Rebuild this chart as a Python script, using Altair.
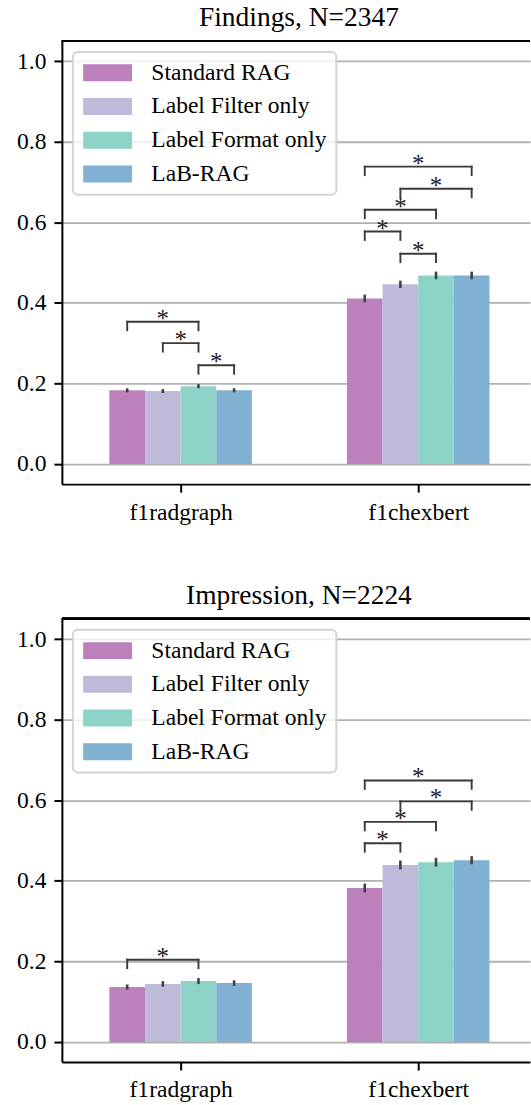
import altair as alt
import pandas as pd

# ---------------- data ----------------
METHODS = ["Standard RAG", "Label Filter only", "Label Format only", "LaB-RAG"]
COLORS = ["#bc80bd", "#bebada", "#8dd3c7", "#80b1d3"]
METRICS = ["f1radgraph", "f1chexbert"]
TITLES = ["Findings, N=2347", "Impression, N=2224"]

# Findings panel
FIND_RADGRAPH = [0.183, 0.181, 0.193, 0.183]
FIND_RADGRAPH_ERR = [0.005, 0.005, 0.005, 0.005]
FIND_CHEXBERT = [0.411, 0.446, 0.468, 0.468]
FIND_CHEXBERT_ERR = [0.0095, 0.009, 0.0095, 0.0095]

# Impression panel
IMP_RADGRAPH = [0.136, 0.144, 0.151, 0.146]
IMP_RADGRAPH_ERR = [0.0065, 0.007, 0.0075, 0.007]
IMP_CHEXBERT = [0.382, 0.439, 0.446, 0.451]
IMP_CHEXBERT_ERR = [0.011, 0.011, 0.011, 0.010]

# significance brackets: metric, method a, method b, bracket height
FIND_SIG_METRIC = ["f1radgraph", "f1radgraph", "f1radgraph",
                   "f1chexbert", "f1chexbert", "f1chexbert", "f1chexbert", "f1chexbert"]
FIND_SIG_A = ["Standard RAG", "Label Filter only", "Label Format only",
              "Standard RAG", "Label Filter only", "Standard RAG", "Standard RAG", "Label Filter only"]
FIND_SIG_B = ["Label Format only", "Label Format only", "LaB-RAG",
              "LaB-RAG", "LaB-RAG", "Label Format only", "Label Filter only", "Label Format only"]
FIND_SIG_H = [0.353, 0.300, 0.245, 0.738, 0.683, 0.631, 0.577, 0.522]

IMP_SIG_METRIC = ["f1radgraph", "f1chexbert", "f1chexbert", "f1chexbert", "f1chexbert"]
IMP_SIG_A = ["Standard RAG", "Standard RAG", "Label Filter only", "Standard RAG", "Standard RAG"]
IMP_SIG_B = ["Label Format only", "LaB-RAG", "LaB-RAG", "Label Format only", "Label Filter only"]
IMP_SIG_H = [0.204, 0.649, 0.597, 0.546, 0.493]

Y_TICKS = [0.0, 0.2, 0.4, 0.6, 0.8, 1.0]

# ---------------- style / layout ----------------
FONT = "'Liberation Serif', 'Times New Roman', Times, 'DejaVu Serif', serif"
BAR_W = 0.15          # width of one bar in category units
LEG = 0.021           # bracket leg length (data units)
PLOT_W = 469
PLOT_H = 444
X_DOMAIN = [-0.5, -0.5 + PLOT_W / 238.0]
Y_DOMAIN = [-0.05, 1.05]
LABEL_EXPR = "datum.value == 0 ? '%s' : '%s'" % (METRICS[0], METRICS[1])


def bar_frame(rad, rad_err, chex, chex_err):
    rows = []
    for m_i, (vals, errs) in enumerate([(rad, rad_err), (chex, chex_err)]):
        for k, meth in enumerate(METHODS):
            pos = m_i + (k - 1.5) * BAR_W
            rows.append(dict(method=meth, metric=METRICS[m_i], value=vals[k], base=0.0,
                             pos=pos, x1=pos - BAR_W / 2, x2=pos + BAR_W / 2,
                             lo=vals[k] - errs[k], hi=vals[k] + errs[k]))
    return pd.DataFrame(rows)


def pos_of(metric, method):
    return METRICS.index(metric) + (METHODS.index(method) - 1.5) * BAR_W


def sig_frames(metrics, a_list, b_list, heights):
    br, legs = [], []
    for met, a, b, h in zip(metrics, a_list, b_list, heights):
        xa, xb = pos_of(met, a), pos_of(met, b)
        br.append(dict(xa=xa, xb=xb, xm=(xa + xb) / 2, h=h))
        legs.append(dict(x=xa, h=h, hl=h - LEG))
        legs.append(dict(x=xb, h=h, hl=h - LEG))
    return pd.DataFrame(br), pd.DataFrame(legs)


xscale = alt.Scale(domain=X_DOMAIN, nice=False, zero=False)
yscale = alt.Scale(domain=Y_DOMAIN, nice=False, zero=False)
xaxis = alt.Axis(title=None, values=[0, 1], labelExpr=LABEL_EXPR, grid=False,
                 labelAngle=0, labelBaseline="top")
yaxis = alt.Axis(title=None, values=Y_TICKS, format=".1f", grid=True)


def panel(title, bars_df, br_df, legs_df):
    X = lambda f: alt.X(f, scale=xscale, axis=xaxis)
    Y = lambda f: alt.Y(f, scale=yscale, axis=yaxis)

    bars = alt.Chart(bars_df).mark_bar(strokeWidth=0).encode(
        x=X("x1:Q"), x2="x2:Q",
        y=Y("value:Q"), y2="base:Q",
        color=alt.Color("method:N", scale=alt.Scale(domain=METHODS, range=COLORS),
                        legend=alt.Legend(title=None, orient="top-left", offset=11,
                                          symbolType="M-2.88,-1H2.88V1H-2.88Z",
                                          symbolSize=289)),
    )
    errs = alt.Chart(bars_df).mark_rule(color="#424242", strokeWidth=2.6).encode(
        x=X("pos:Q"), y=Y("lo:Q"), y2="hi:Q"
    )
    hbr = alt.Chart(br_df).mark_rule(color="#3a3a3a", strokeWidth=1.9, strokeCap="square").encode(
        x=X("xa:Q"), x2="xb:Q", y=Y("h:Q")
    )
    vbr = alt.Chart(legs_df).mark_rule(color="#3a3a3a", strokeWidth=1.9, strokeCap="square").encode(
        x=X("x:Q"), y=Y("hl:Q"), y2="h:Q"
    )
    stars = alt.Chart(br_df).mark_text(text="*", font=FONT, fontSize=25, color="#222222",
                                       align="center", baseline="alphabetic", dy=5).encode(
        x=X("xm:Q"), y=Y("h:Q")
    )
    top_spine = alt.Chart(bars_df).mark_rule(color="black", strokeWidth=2).encode(
        x=alt.value(0), x2=alt.value(PLOT_W), y=alt.value(0)
    )
    return alt.layer(bars, errs, hbr, vbr, stars, top_spine).properties(
        width=PLOT_W, height=PLOT_H,
        title=alt.TitleParams(title, dx=3),
    )


b1 = bar_frame(FIND_RADGRAPH, FIND_RADGRAPH_ERR, FIND_CHEXBERT, FIND_CHEXBERT_ERR)
b2 = bar_frame(IMP_RADGRAPH, IMP_RADGRAPH_ERR, IMP_CHEXBERT, IMP_CHEXBERT_ERR)
br1, lg1 = sig_frames(FIND_SIG_METRIC, FIND_SIG_A, FIND_SIG_B, FIND_SIG_H)
br2, lg2 = sig_frames(IMP_SIG_METRIC, IMP_SIG_A, IMP_SIG_B, IMP_SIG_H)

chart = alt.vconcat(
    panel(TITLES[0], b1, br1, lg1),
    panel(TITLES[1], b2, br2, lg2),
    spacing=58,
).resolve_scale(color="independent").resolve_legend(color="independent").properties(
    padding={"left": 16, "top": 3, "right": 0, "bottom": 0},
).configure_view(stroke=None).configure_axis(
    domainColor="black", domainWidth=2, tickColor="black", tickWidth=2, tickSize=8,
    labelPadding=8, labelFont=FONT, labelFontSize=23.6, labelColor="black",
    gridColor="#b0b0b0", gridWidth=1.8,
).configure_legend(
    labelFont=FONT, labelFontSize=23.6, labelColor="black", labelLimit=400,
    padding=9, rowPadding=8.8, symbolOffset=14, labelOffset=32,
    strokeColor="#d4d4d4", strokeWidth=2, cornerRadius=5,
    fillColor="rgba(255,255,255,0.8)", symbolStrokeWidth=0, symbolOpacity=1,
).configure_title(
    font=FONT, fontSize=27.5, fontWeight="normal", color="black",
    anchor="middle", baseline="alphabetic", offset=8,
)

chart.save("out.html", embed_options={"renderer": "svg", "actions": False})
